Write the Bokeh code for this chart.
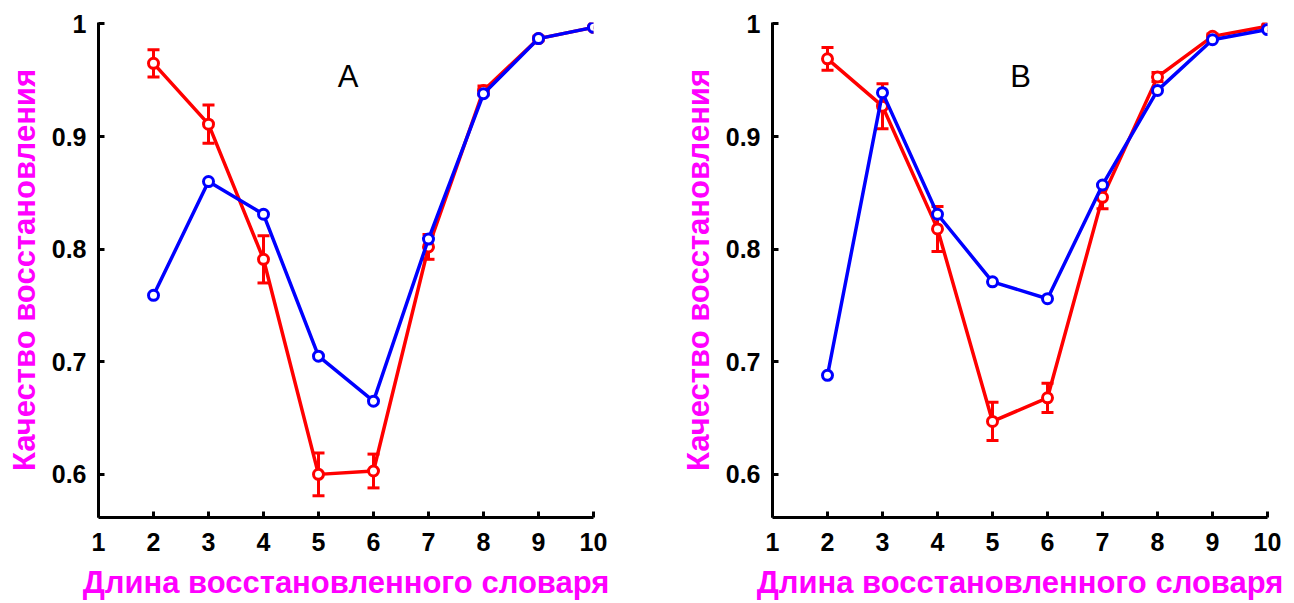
from bokeh.plotting import figure
from bokeh.layouts import row
from bokeh.models import (ColumnDataSource, Whisker, TeeHead, FixedTicker,
                          CustomJSTickFormatter, Range1d)
from bokeh.core.properties import value
from bokeh.embed import file_html
from bokeh.resources import INLINE

# ---------------- data ----------------
x_vals = [2, 3, 4, 5, 6, 7, 8, 9, 10]

a_red = [0.965, 0.911, 0.791, 0.600, 0.603, 0.802, 0.941, 0.987, 0.997]
a_red_err = [0.012, 0.017, 0.021, 0.019, 0.015, 0.011, 0.004, 0.002, 0.001]
a_blue = [0.759, 0.860, 0.831, 0.705, 0.665, 0.809, 0.938, 0.987, 0.997]

b_red = [0.969, 0.927, 0.818, 0.647, 0.668, 0.846, 0.953, 0.989, 0.998]
b_red_err = [0.010, 0.020, 0.020, 0.017, 0.013, 0.010, 0.004, 0.002, 0.001]
b_blue = [0.688, 0.939, 0.831, 0.771, 0.756, 0.857, 0.941, 0.986, 0.995]

x_ticks = [1, 2, 3, 4, 5, 6, 7, 8, 9, 10]
x_tick_labels = ["1", "2", "3", "4", "5", "6", "7", "8", "9", "10"]
y_ticks = [0.6, 0.7, 0.8, 0.9, 1.0]
y_tick_labels = ["0.6", "0.7", "0.8", "0.9", "1"]

panel_letters = ["A", "B"]
letter_x = [5.54, 5.51]
letter_y = 0.953
x_label = "Длина восстановленного словаря"
y_label = "Качество восстановления"

RED = "#ff0000"
BLUE = "#0000ff"
MAGENTA = "#ff00ff"
TICK_FONT = "Liberation Sans Narrow, Liberation Sans"
LABEL_FONT = "Liberation Sans"


def fmt(tick_vals, tick_labels):
    return CustomJSTickFormatter(args=dict(tv=tick_vals, tl=tick_labels), code="""
        let best = 0;
        for (let i = 0; i < tv.length; i++) {
            if (Math.abs(tv[i] - tick) < Math.abs(tv[best] - tick)) best = i;
        }
        return tl[best];
    """)


def make_panel(red, red_err, blue, letter, lx, left_border, right_border):
    p = figure(width=647, height=603, output_backend="svg", toolbar_location=None,
               x_range=Range1d(1, 10), y_range=Range1d(0.5617, 1.0013),
               min_border_left=left_border, min_border_right=right_border,
               min_border_top=22, min_border_bottom=86)
    p.outline_line_color = None
    p.xgrid.visible = False
    p.ygrid.visible = False
    p.background_fill_color = "white"
    p.border_fill_color = "white"

    for ax in (p.xaxis[0], p.yaxis[0]):
        ax.axis_line_width = 3
        ax.axis_line_color = "black"
        ax.major_tick_in = 6
        ax.major_tick_out = 0
        ax.major_tick_line_width = 3
        ax.minor_tick_line_color = None
        ax.major_label_text_font = TICK_FONT
        ax.major_label_text_font_style = "bold"
        ax.major_label_text_font_size = "25px"
        ax.major_label_text_color = "black"
        ax.axis_label_text_font = LABEL_FONT
        ax.axis_label_text_font_style = "bold"
        ax.axis_label_text_font_size = "31px"
        ax.axis_label_text_color = MAGENTA

    p.xaxis.ticker = FixedTicker(ticks=x_ticks)
    p.xaxis.formatter = fmt(x_ticks, x_tick_labels)
    p.yaxis.ticker = FixedTicker(ticks=y_ticks)
    p.yaxis.formatter = fmt(y_ticks, y_tick_labels)
    p.xaxis.major_label_standoff = 15
    p.yaxis.major_label_standoff = 12
    p.xaxis.axis_label = x_label
    p.yaxis.axis_label = y_label
    p.xaxis.axis_label_standoff = 11
    p.yaxis.axis_label_standoff = 7

    lower = [v - e for v, e in zip(red, red_err)]
    upper = [v + e for v, e in zip(red, red_err)]
    src = ColumnDataSource(dict(x=x_vals, y=red, lower=lower, upper=upper))
    p.line("x", "y", source=src, line_color=RED, line_width=3.5)
    w = Whisker(base="x", upper="upper", lower="lower", source=src,
                line_color=RED, line_width=3,
                upper_head=TeeHead(size=12, line_color=RED, line_width=3),
                lower_head=TeeHead(size=12, line_color=RED, line_width=3))
    p.add_layout(w)
    p.scatter("x", "y", source=src, marker="circle", size=10, line_color=RED,
              line_width=3, fill_color="white")

    bsrc = ColumnDataSource(dict(x=x_vals, y=blue))
    p.line("x", "y", source=bsrc, line_color=BLUE, line_width=3.5)
    p.scatter("x", "y", source=bsrc, marker="circle", size=10, line_color=BLUE,
              line_width=3, fill_color="white")

    p.text(x=[lx], y=[letter_y], text=[letter], text_align="center",
           text_baseline="middle", text_font=value(LABEL_FONT),
           text_font_size="31px", text_color="black")
    return p


p1 = make_panel(a_red, a_red_err, a_blue, panel_letters[0], letter_x[0], 98, 54)
p2 = make_panel(b_red, b_red_err, b_blue, panel_letters[1], letter_x[1], 125, 27)
layout = row(p1, p2, spacing=0)

open("out.html", "w").write(file_html(layout, INLINE))
